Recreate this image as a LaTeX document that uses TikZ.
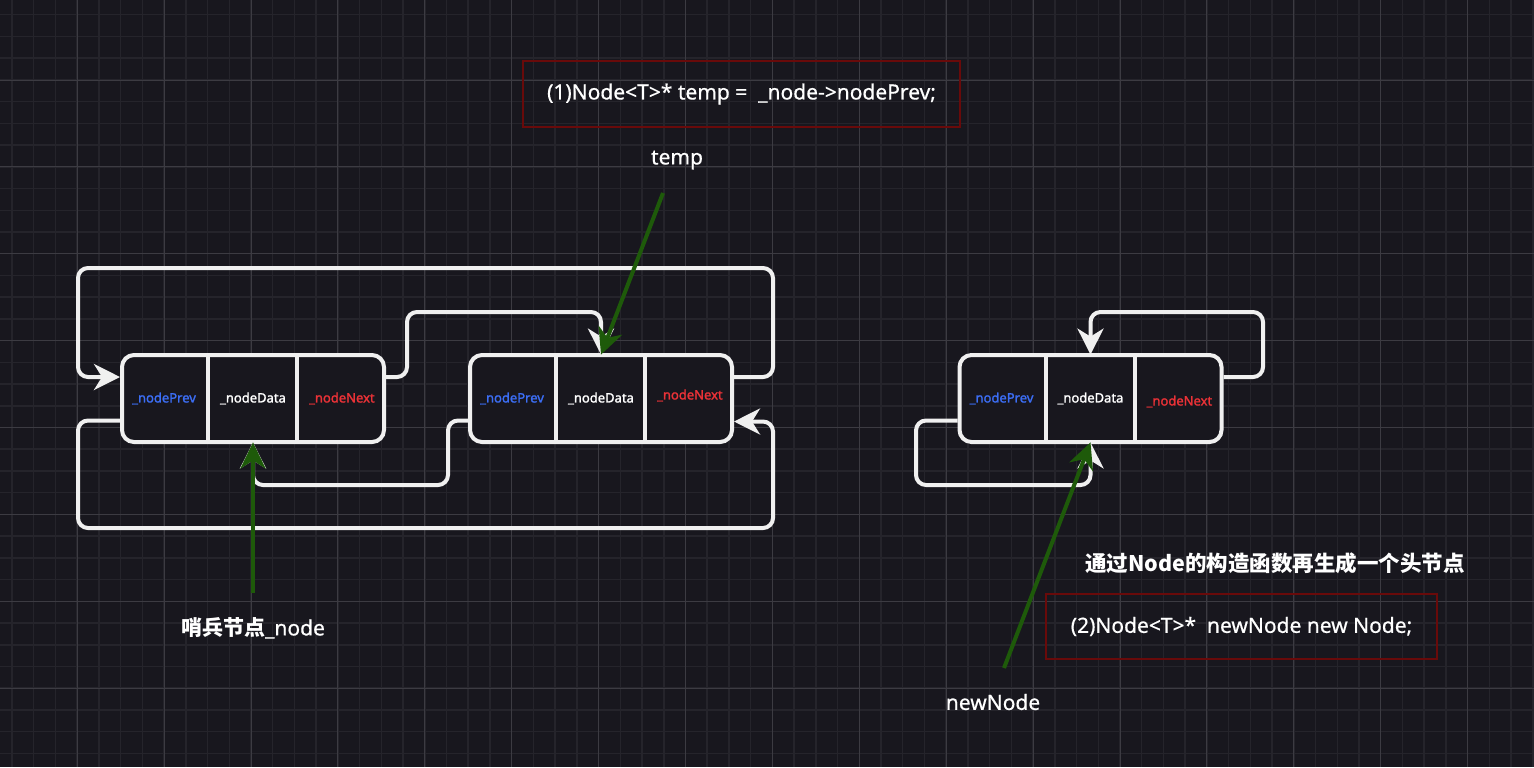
\documentclass[tikz,border=0pt]{standalone}
\usepackage{fontspec}
\setmainfont{Noto Sans}[FakeBold=0.6]
\newfontfamily\cellfont{Noto Sans}[FakeBold=1.6]
\newfontfamily\cjk{Noto Sans CJK SC}
\usetikzlibrary{arrows.meta}
\definecolor{bg}{RGB}{24,23,30}
\definecolor{gridminor}{RGB}{37,36,43}
\definecolor{gridmajor}{RGB}{60,59,66}
\definecolor{wline}{RGB}{240,240,240}
\definecolor{pblue}{RGB}{60,110,245}
\definecolor{nred}{RGB}{235,50,55}
\definecolor{agreen}{RGB}{30,90,10}
\definecolor{boxred}{RGB}{105,10,10}
\begin{document}
\begin{tikzpicture}[x=0.5pt,y=-0.5pt,
 listnode/.style={draw=wline, line width=2pt, rounded corners=6pt, minimum width=131pt, minimum height=43.5pt, inner sep=0pt, fill=bg},
 cell/.style={minimum width=43.67pt, minimum height=43.5pt, inner sep=0pt, font=\cellfont\fontsize{6.5}{7.5}\selectfont},
 divider/.style={draw=wline, line width=2pt},
 link/.style={draw=wline, line width=2pt, rounded corners=5pt, -{Stealth[length=13pt,width=13pt,inset=4pt]}},
 ptr/.style={draw=agreen, line width=2pt, -{Stealth[length=13pt,width=12.5pt,inset=4pt]}},
 code/.style={draw=boxred, line width=1pt, text=white, inner sep=0pt, font=\fontsize{10.5}{12}\selectfont},
 lbl/.style={text=white, font=\fontsize{10.5}{12}\selectfont, inner sep=0pt}
]
\useasboundingbox (0,0) rectangle (1534,767);
\clip (0,0) rectangle (1534,767);
\fill[bg] (0,0) rectangle (1534,767);
% grid
\foreach \i in {0,...,70} \draw[gridminor, line width=0.75pt] ({12.0+\i*21.725},0) -- ({12.0+\i*21.725},767);
\foreach \j in {0,...,35} \draw[gridminor, line width=0.75pt] (0,{-7.0+\j*21.725}) -- (1534,{-7.0+\j*21.725});
\foreach \i in {0,...,17} \draw[gridmajor, line width=0.5pt] ({77.2+\i*86.9},0) -- ({77.2+\i*86.9},767);
\foreach \j in {0,...,8} \draw[gridmajor, line width=0.5pt] (0,{80.0+\j*86.9}) -- (1534,{80.0+\j*86.9});

% list nodes
\node[listnode] (n1) at (253,398.5) {};
\node[cell, anchor=west, text=pblue] (n1p) at (n1.west) {\_nodePrev};
\node[cell, text=white] (n1d) at (n1.center) {\_nodeData};
\node[cell, anchor=east, text=nred] (n1n) at (n1.east) {\_nodeNext};
\draw[divider] (n1p.north east) -- (n1p.south east);
\draw[divider] (n1d.north east) -- (n1d.south east);

\node[listnode] (n2) at (601,398.5) {};
\node[cell, anchor=west, text=pblue] (n2p) at (n2.west) {\_nodePrev};
\node[cell, text=white] (n2d) at (n2.center) {\_nodeData};
\node[cell, anchor=east, text=nred, yshift=1.5pt] (n2n) at (n2.east) {\_nodeNext};
\draw[divider] (n2p.north east) -- (n2p.south east);
\draw[divider] (n2d.north east) -- (n2d.south east);

\node[listnode] (n3) at (1090.5,398.5) {};
\node[cell, anchor=west, text=pblue] (n3p) at (n3.west) {\_nodePrev};
\node[cell, text=white] (n3d) at (n3.center) {\_nodeData};
\node[cell, anchor=east, text=nred, yshift=-1.5pt] (n3n) at (n3.east) {\_nodeNext};
\draw[divider] (n3p.north east) -- (n3p.south east);
\draw[divider] (n3d.north east) -- (n3d.south east);

% white links
\draw[link] ([yshift=10.75pt]n2.east) -| (773,268) -- (78,268) |- ([yshift=10.75pt]n1.west);
\draw[link] ([yshift=10.75pt]n1.east) -| (407,312) -| (n2d.north);
\draw[link] ([yshift=-11pt]n2.west) -| (448,485) -| (n1d.south);
\draw[link] ([yshift=-11pt]n1.west) -| (78,528) -- (773,528) |- ([yshift=-11.5pt]n2.east);
\draw[link] ([yshift=10.75pt]n3.east) -| (1263,312) -| (n3d.north);
\draw[link] ([yshift=-11pt]n3.west) -| (916,485) -| (n3d.south);

% code boxes and labels
\node[code, minimum width=218.5pt, minimum height=33pt] (c1) at (741.5,94) {(1)Node<T>* temp = \ \_node->nodePrev;};
\node[lbl] (tmp) at (677,160) {temp};
\coordinate (tmpend) at (663,193);
\draw[ptr] (tmpend) -- (n2d.north);

\node[lbl] (sent) at (253,628) {{\cjk\bfseries 哨兵节点}\_node};
\coordinate (sentend) at (253,593);
\draw[ptr] (sentend) -- (n1d.south);

\node[lbl, font=\cjk\bfseries\fontsize{10.75}{13}\selectfont] (hd) at (1275,563) {通过Node的构造函数再生成一个头节点};
\node[code, minimum width=195.5pt, minimum height=32.5pt] (c2) at (1241.5,626.5) {(2)Node<T>* \ newNode new Node;};
\node[lbl] (nn) at (993,702) {newNode};
\coordinate (nnend) at (1004,668);
\draw[ptr] (nnend) -- (n3d.south);
\end{tikzpicture}
\end{document}
